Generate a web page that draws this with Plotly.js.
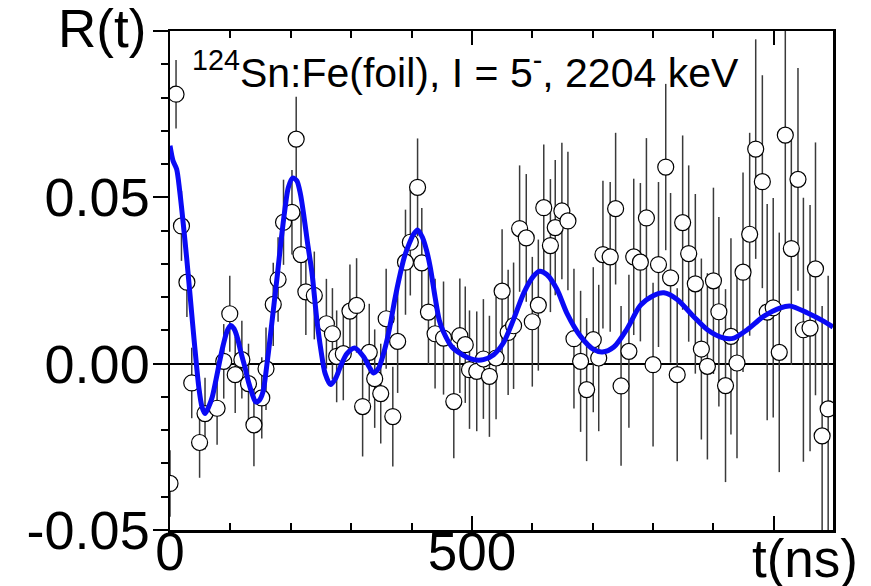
<!DOCTYPE html>
<html>
<head>
<meta charset="utf-8">
<script src="https://cdn.plot.ly/plotly-3.0.1.min.js"></script>
<style>html,body{margin:0;padding:0;background:#fff;}#chart{width:871px;height:586px;}</style>
</head>
<body>
<div id="chart"></div>
<script>
// measured data: time (ns), R(t), uncertainty
const tData = [0,10,19,28,36,49,58,78,89,99,108,119,130,139,152,159,171,179,188,202,209,217,225,239,259,269,276,287,298,309,319,330,339,349,358,369,377,390,398,410,417,428,439,453,470,480,489,496,508,519,529,540,550,560,569,579,590,600,610,619,630,638,649,659,669,680,690,701,710,717,729,738,747,760,768,779,789,800,809,821,829,840,849,859,870,880,890,900,909,920,929,939,949,960,970,981,989,999,1009,1019,1029,1040,1049,1060,1069,1080,1090];
const rData = [-0.036,0.081,0.0414,0.0245,-0.0058,-0.0237,-0.015,-0.0134,0.0007,0.015,-0.0033,0.0012,-0.006,-0.0184,-0.0103,-0.0015,0.0178,0.0253,0.0425,0.0455,0.0675,0.0328,0.0216,0.0205,0.012,0.009,0.0022,0.003,0.0158,0.0175,-0.0129,0.0034,-0.0045,-0.009,0.0135,-0.0159,0.0067,0.0305,0.0365,0.053,0.0303,0.0155,0.009,0.0077,-0.0114,0.0084,0.0057,-0.0018,-0.0023,0.0014,-0.0038,0.0017,0.0218,0.0094,0.0114,0.0406,0.0378,0.0126,0.0176,0.0469,0.0355,0.0409,0.0459,0.0429,0.0075,0.0007,-0.0078,0.0072,0.0017,0.0328,0.0321,0.0466,-0.0067,0.0037,0.0321,0.0305,0.0438,-0.0003,0.0298,0.0591,0.0258,-0.0033,0.0424,0.0331,0.024,0.0044,-0.0008,0.0249,0.0156,-0.0066,0.0082,0.0002,0.0275,0.0389,0.0645,0.0547,0.0155,0.0168,0.0034,0.0687,0.0346,0.0554,0.0102,0.0107,0.0285,-0.0217,-0.0136];
const rErr = [0.010,0.0103,0.0105,0.0105,0.0106,0.0106,0.0108,0.011,0.0112,0.0114,0.0115,0.0117,0.012,0.0124,0.0122,0.0124,0.0125,0.0127,0.0128,0.0127,0.0127,0.013,0.013,0.0132,0.0135,0.0137,0.0138,0.014,0.014,0.0142,0.015,0.0146,0.0148,0.015,0.015,0.015,0.0155,0.0158,0.016,0.0147,0.0165,0.0157,0.0165,0.017,0.017,0.0172,0.0175,0.0178,0.018,0.018,0.0182,0.0184,0.0186,0.0188,0.019,0.019,0.0192,0.0195,0.0197,0.019,0.02,0.0203,0.0205,0.0208,0.021,0.0212,0.0215,0.0218,0.022,0.0222,0.0225,0.0228,0.024,0.023,0.0235,0.0238,0.024,0.0246,0.0248,0.025,0.0255,0.026,0.0262,0.0265,0.027,0.0272,0.028,0.028,0.0285,0.029,0.0295,0.0286,0.03,0.0305,0.033,0.032,0.0325,0.033,0.036,0.034,0.035,0.0335,0.0397,0.037,0.038,0.039,0.04];

// fitted curve
const fitT = [0,5,11,16,22,28,34,41,48,53,58,64,70,76,82,88,94,100,106,112,118,124,130,136,142,148,154,160,166,172,178,184,190,196,203,210,216,222,228,235,243,250,257,266,274,282,293,306,320,330,337,345,352,358,365,372,380,388,396,403,410,418,425,431,439,446,453,467,486,503,519,536,552,569,586,602,612,624,641,657,680,702,716,735,757,779,801,818,840,867,890,917,934,956,983,1011,1028,1055,1083,1098];
const fitR = [0.0655,0.061,0.0585,0.052,0.042,0.031,0.019,0.005,-0.0075,-0.013,-0.015,-0.013,-0.010,-0.005,0.0005,0.0055,0.0095,0.0115,0.0105,0.0075,0.003,-0.001,-0.0055,-0.009,-0.0115,-0.011,-0.0085,-0.001,0.008,0.0175,0.027,0.037,0.046,0.053,0.0558,0.055,0.051,0.044,0.036,0.0275,0.0135,0.004,-0.003,-0.0063,-0.0045,-0.001,0.003,0.0047,0.0022,-0.001,-0.0028,-0.0015,0.002,0.006,0.012,0.019,0.026,0.032,0.036,0.0388,0.0402,0.038,0.034,0.029,0.020,0.013,0.0095,0.005,0.0025,0.0012,0.0012,0.0027,0.0062,0.0133,0.0213,0.0263,0.0278,0.0268,0.0223,0.0153,0.0082,0.0042,0.0035,0.005,0.0105,0.0175,0.0205,0.0213,0.0193,0.0142,0.0102,0.0077,0.0077,0.0102,0.0142,0.0168,0.0173,0.0153,0.0127,0.011];

const xTickVals = [0,500,1000];
const xTickText = ['0','500',''];
const yTickVals = [-0.05,0,0.05,0.1];
const yTickText = ['-0.05','0.00','0.05',''];

const FONT = 'Liberation Sans, Arial, sans-serif';

const traces = [
  {
    x: tData, y: rData, type: 'scatter', mode: 'markers',
    error_y: {type: 'data', array: rErr, visible: true, color: '#3a3a3a', thickness: 1.5, width: 0},
    marker: {symbol: 'circle', size: 16, color: '#ffffff', line: {color: '#000000', width: 1.2}},
    showlegend: false, hoverinfo: 'skip'
  },
  {
    x: fitT, y: fitR, type: 'scatter', mode: 'lines',
    line: {color: '#0a0af5', width: 5, shape: 'spline', smoothing: 0.8},
    showlegend: false, hoverinfo: 'skip'
  }
];

const layout = {
  width: 871, height: 586,
  margin: {l: 170, r: 38, t: 31, b: 56, pad: 0},
  paper_bgcolor: '#ffffff', plot_bgcolor: '#ffffff',
  font: {family: FONT, color: '#000'},
  xaxis: {
    range: [0, 1098], showgrid: false, zeroline: false,
    showline: true, linecolor: '#000', linewidth: 2.5, mirror: 'ticks',
    tickmode: 'array', tickvals: xTickVals, ticktext: xTickText,
    ticks: 'inside', ticklen: 14, tickwidth: 2, tickcolor: '#000',
    ticklabelstandoff: -26,
    tickfont: {family: FONT, size: 53, color: '#000'},
    minor: {tickmode: 'linear', tick0: 0, dtick: 100, ticks: 'inside', ticklen: 7, tickwidth: 2, tickcolor: '#000', showgrid: false}
  },
  yaxis: {
    range: [-0.05, 0.1], showgrid: false,
    zeroline: true, zerolinecolor: '#000', zerolinewidth: 2,
    showline: true, linecolor: '#000', linewidth: 2.5, mirror: true,
    tickmode: 'array', tickvals: yTickVals, ticktext: yTickText,
    ticks: 'outside', ticklen: 15, tickwidth: 2, tickcolor: '#000',
    ticklabelstandoff: -8,
    tickfont: {family: FONT, size: 54, color: '#000'},
    minor: {tickmode: 'linear', tick0: 0, dtick: 0.01, ticks: 'outside', ticklen: 7, tickwidth: 2, tickcolor: '#000', showgrid: false}
  },
  annotations: [
    {text: 'R(t)', xref: 'paper', yref: 'paper', x: -0.033, y: 1.006, xanchor: 'right', yanchor: 'middle', showarrow: false, font: {family: FONT, size: 53, color: '#000'}},
    {text: 't(ns)', xref: 'paper', yref: 'paper', x: 1.040, y: -0.057, xanchor: 'right', yanchor: 'middle', showarrow: false, font: {family: FONT, size: 53, color: '#000'}},
    {text: '<sup>124</sup>Sn:Fe(foil), I = 5<sup>-</sup>, 2204 keV', xref: 'paper', yref: 'paper', x: 0.03, y: 0.922, xanchor: 'left', yanchor: 'middle', showarrow: false, font: {family: FONT, size: 41, color: '#000'}}
  ]
};

Plotly.newPlot('chart', traces, layout, {staticPlot: true, displayModeBar: false});
</script>
</body>
</html>
